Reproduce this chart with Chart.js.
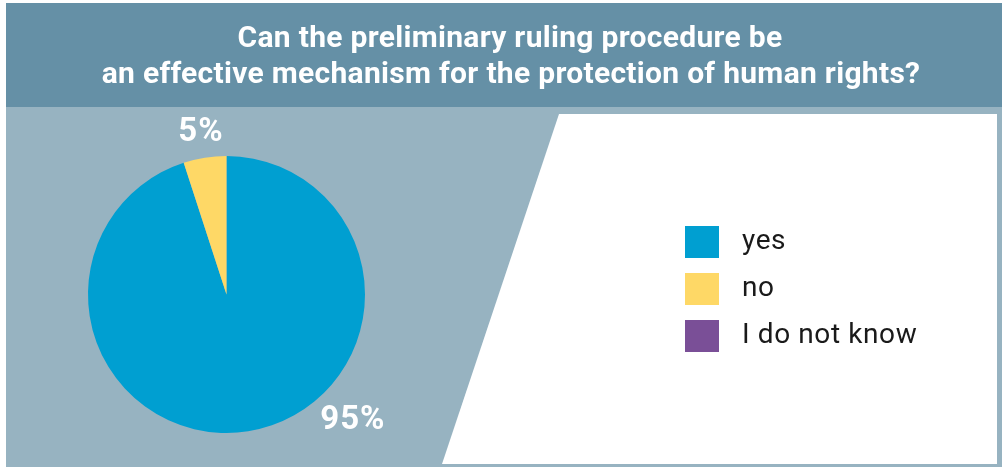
<!DOCTYPE html>
<html>
<head>
<meta charset="utf-8">
<script src="https://cdn.jsdelivr.net/npm/chart.js@4"></script>
<style>
  html, body { margin: 0; padding: 0; background: #ffffff; }
  #wrap { position: relative; width: 1002px; height: 469px; }
</style>
</head>
<body>
<div id="wrap"><canvas id="pieChart" width="1002" height="469"></canvas></div>
<script>
// Survey answers (percent of respondents)
const answers = ['yes', 'no', 'I do not know'];
const shares = [95, 5, 0];
const answerColors = ['#009fd1', '#fed866', '#7a4f97'];

const titleLines = [
    'Can the preliminary ruling procedure be',
    'an effective mechanism for the protection of human rights?'
];

const DARK = '#6590a6';
const LIGHT = '#97b3c1';

// Panels: dark header, light body, white slanted box for the legend
const backdrop = {
    id: 'backdrop',
    beforeDraw(chart) {
        const ctx = chart.ctx;
        ctx.save();
        ctx.fillStyle = '#ffffff';
        ctx.fillRect(0, 0, chart.width, chart.height);
        ctx.fillStyle = LIGHT;
        ctx.fillRect(6, 107, 996, 360);
        ctx.fillStyle = DARK;
        ctx.fillRect(6, 3, 996, 104);

        ctx.fillStyle = '#ffffff';
        ctx.beginPath();
        ctx.moveTo(559, 114);
        ctx.lineTo(997, 114);
        ctx.lineTo(997, 464);
        ctx.lineTo(442, 464);
        ctx.closePath();
        ctx.fill();

        ctx.fillStyle = '#ffffff';
        ctx.font = 'bold 30px Roboto, "Liberation Sans", sans-serif';
        ctx.letterSpacing = '0.3px';
        ctx.textAlign = 'center';
        ctx.textBaseline = 'alphabetic';
        ctx.fillText(titleLines[0], 510, 47);
        ctx.fillText(titleLines[1], 511, 83);
        ctx.restore();
    }
};

// Percentage labels outside the slices
const sliceLabels = {
    id: 'sliceLabels',
    afterDatasetsDraw(chart) {
        const ctx = chart.ctx;
        const meta = chart.getDatasetMeta(0);
        ctx.save();
        ctx.fillStyle = '#ffffff';
        ctx.font = 'bold 33px Roboto, "Liberation Sans", sans-serif';
        ctx.letterSpacing = '1px';
        ctx.textAlign = 'center';
        ctx.textBaseline = 'middle';
        meta.data.forEach((arc, i) => {
            const v = chart.data.datasets[0].data[i];
            if (!v) return;
            const p = arc.getProps(['x', 'y', 'startAngle', 'endAngle', 'outerRadius'], true);
            let ang, dist;
            if (v > 50) {
                // big slice: label sits at the lower right
                ang = Math.PI / 4;
                dist = p.outerRadius * 1.29;
            } else {
                ang = (p.startAngle + p.endAngle) / 2;
                dist = p.outerRadius * 1.18;
            }
            ctx.fillText(v + '%', p.x + Math.cos(ang) * dist, p.y + Math.sin(ang) * dist);
        });
        ctx.restore();
    }
};

// Square swatch legend in the white box
const squareLegend = {
    id: 'squareLegend',
    afterDraw(chart) {
        const ctx = chart.ctx;
        const ds = chart.data.datasets[0];
        ctx.save();
        ctx.font = '28px Roboto, "Liberation Sans", sans-serif';
        ctx.letterSpacing = '0.6px';
        ctx.textAlign = 'left';
        ctx.textBaseline = 'middle';
        chart.data.labels.forEach((label, i) => {
            const y = 226 + i * 47;
            ctx.fillStyle = ds.backgroundColor[i];
            ctx.fillRect(685, y, 34, 32);
            ctx.fillStyle = '#1a1a1a';
            ctx.fillText(label, 742, y + 16);
        });
        ctx.restore();
    }
};

new Chart(document.getElementById('pieChart'), {
    type: 'pie',
    data: {
        labels: answers,
        datasets: [{
            data: shares,
            backgroundColor: answerColors,
            borderWidth: 0
        }]
    },
    options: {
        responsive: false,
        animation: false,
        layout: {
            padding: { left: 88, right: 637, top: 156, bottom: 36 }
        },
        plugins: {
            legend: { display: false },
            tooltip: { enabled: false }
        }
    },
    plugins: [backdrop, sliceLabels, squareLegend]
});
</script>
</body>
</html>
